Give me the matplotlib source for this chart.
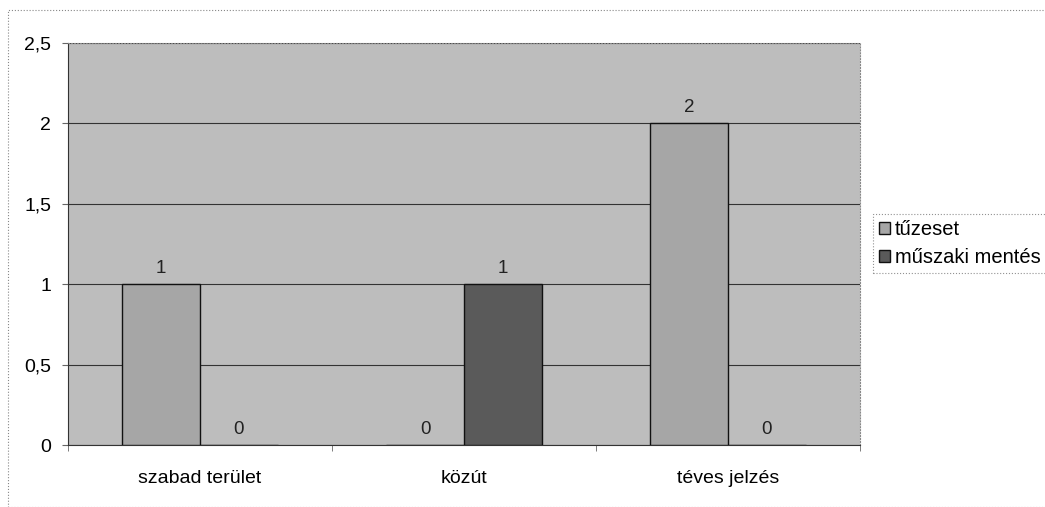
import matplotlib
matplotlib.use("Agg")
import matplotlib.pyplot as plt
import numpy as np
from matplotlib.patches import Rectangle

categories = ["szabad terület", "közút", "téves jelzés"]
series_names = ["tűzeset", "műszaki mentés"]
tuzeset = [1, 0, 2]
muszaki = [0, 1, 0]
yticks = [0, 0.5, 1, 1.5, 2, 2.5]
ytick_labels = ["0", "0,5", "1", "1,5", "2", "2,5"]

plt.rcParams['font.family'] = ['Liberation Sans', 'DejaVu Sans']

fig = plt.figure(figsize=(10.45, 5.07), dpi=100)
fig.patch.set_facecolor("white")
ax = fig.add_axes([68/1045, 62/507, 792/1045, 402/507])
ax.set_facecolor("#bdbdbd")

x = np.arange(len(categories))
w = 0.295
b1 = ax.bar(x - w/2, tuzeset, w, color="#a6a6a6", edgecolor="#111111", linewidth=1.0, label=series_names[0], zorder=3)
b2 = ax.bar(x + w/2, muszaki, w, color="#5a5a5a", edgecolor="#111111", linewidth=1.0, label=series_names[1], zorder=3)

for bars, vals in ((b1, tuzeset), (b2, muszaki)):
    for r, v in zip(bars, vals):
        ax.annotate(str(v), (r.get_x() + r.get_width()/2, v), xytext=(0, 5),
                    textcoords="offset points", ha="center", va="bottom",
                    fontsize=13.5, color="#222222")

ax.set_xlim(-0.5, 2.5)
ax.set_ylim(0, 2.5)
ax.set_yticks(yticks)
ax.set_yticklabels(ytick_labels, fontsize=14)
ax.set_xticks(x)
ax.set_xticklabels(categories, fontsize=14)
ax.tick_params(axis="x", length=0, pad=18)
ax.set_xticks([-0.5, 0.5, 1.5, 2.5], minor=True)
ax.tick_params(axis="x", which="minor", length=4, color="#666666")
ax.tick_params(axis="y", length=4, color="#666666", pad=8)
ax.yaxis.grid(True, color="#333333", linewidth=0.8, zorder=1)
ax.set_axisbelow(True)
for s in ["top", "right"]:
    ax.spines[s].set_color("#888888")
    ax.spines[s].set_linestyle(":")
ax.spines["left"].set_color("#333333")
ax.spines["bottom"].set_color("#333333")

leg = fig.legend(handles=[b1, b2], labels=series_names, loc="upper left",
                 bbox_to_anchor=(873/1045, 1 - 214/507), frameon=True,
                 fontsize=14.5, handlelength=0.55, handleheight=0.55,
                 handletextpad=0.25, borderpad=0.3, labelspacing=0.45,
                 fancybox=False, borderaxespad=0)
leg.get_frame().set_edgecolor("#777777")
leg.get_frame().set_linestyle(":")
leg.get_frame().set_linewidth(0.8)

fig.add_artist(Rectangle((8/1045, 0), 1, 1 - 10/507, transform=fig.transFigure,
                         fill=False, edgecolor="#888888", linestyle=":", linewidth=0.8))

fig.savefig("out.png", dpi=100)
